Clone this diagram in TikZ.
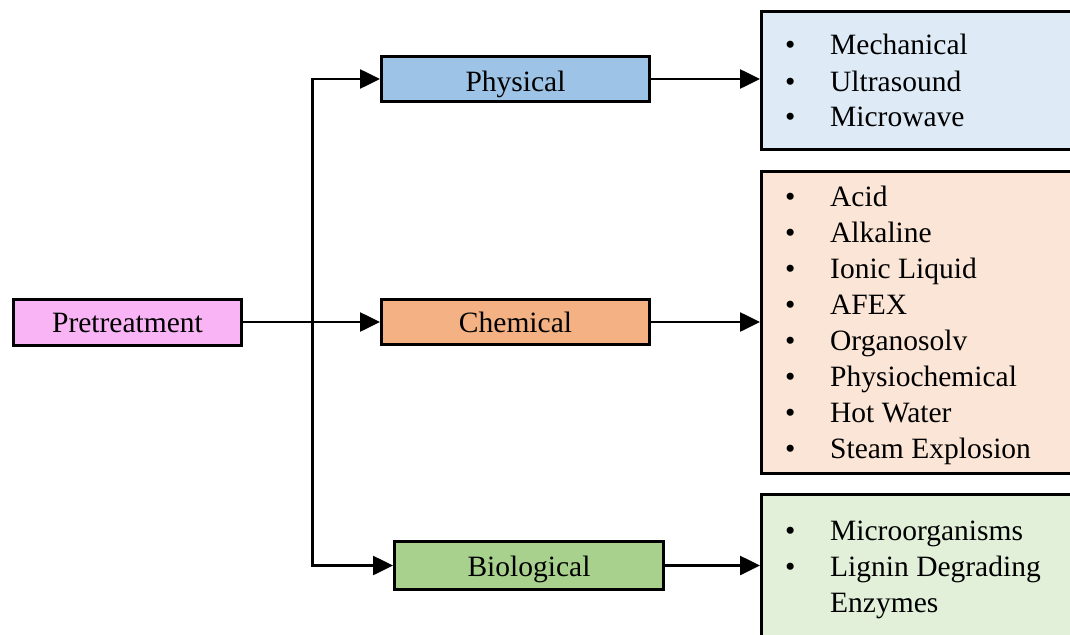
\documentclass[tikz,border=0pt]{standalone}
\usepackage{fontspec}
\setmainfont{Liberation Serif}
\usetikzlibrary{arrows.meta}

\definecolor{prefill}{HTML}{F9B4F5}
\definecolor{phyfill}{HTML}{9DC3E6}
\definecolor{chemfill}{HTML}{F4B183}
\definecolor{biofill}{HTML}{A9D18E}
\definecolor{phylight}{HTML}{DEEBF7}
\definecolor{chemlight}{HTML}{FBE5D6}
\definecolor{biolight}{HTML}{E2F0D9}

% bullet list set as a two-column table, rows 36pt apart
\newcommand{\bulletlist}[1]{%
  \setlength{\tabcolsep}{0pt}%
  \begin{tabular}[t]{@{}p{45pt}@{}l@{}}#1\end{tabular}}

\begin{document}
\begin{tikzpicture}[x=1pt,y=-1pt,
  every node/.style={font=\fontsize{29.5}{36}\selectfont},
  catbox/.style={draw=black, line width=3pt, inner sep=0pt,
    minimum height=45pt, minimum width=268pt, text height=21pt, text depth=0pt},
  listbox/.style={draw=black, line width=3pt, inner sep=0pt, minimum width=322pt},
  listtext/.style={anchor=base west, inner sep=0pt, align=left},
  conn/.style={line width=2.6pt, -{Triangle[length=20pt,width=19pt]}}
]
\useasboundingbox (0,0) rectangle (1070,634);

% category boxes
\node[catbox, fill=prefill, minimum width=228pt, minimum height=46pt] (pre) at (127.5,322) {Pretreatment};
\node[catbox, fill=phyfill, text height=25pt] (phy) at (515.5,79) {Physical};
\node[catbox, fill=chemfill] (chem) at (515.5,322) {Chemical};
\node[catbox, fill=biofill, minimum width=269pt, minimum height=48pt] (bio) at (529,565.5) {Biological};

% detail boxes on the right
\node[listbox, fill=phylight, minimum height=138pt] (phylist) at (922.5,80.5) {};
\node[listbox, fill=chemlight, minimum height=302pt] (chemlist) at (922.5,322.5) {};
\node[listbox, fill=biolight, minimum height=156pt] (biolist) at (922.5,572.5) {};

\node[listtext] (phyitems) at (785,55) {\bulletlist{•&Mechanical\\ •&Ultrasound\\ •&Microwave}};
\node[listtext] (chemitems) at (785,206) {\bulletlist{•&Acid\\ •&Alkaline\\ •&Ionic Liquid\\ •&AFEX\\ •&Organosolv\\ •&Physiochemical\\ •&Hot Water\\ •&Steam Explosion}};
\node[listtext] (bioitems) at (785,540) {\bulletlist{•&Microorganisms\\ •&Lignin Degrading\\ &Enzymes}};

% trunk and branches
\coordinate (trunk) at (312.5,322);
\draw[conn] (pre.east) -- (chem.west);
\draw[conn] (trunk) |- (phy.west);
\draw[conn] (trunk) |- (bio.west);

\draw[conn] (phy.east) -- (phy.east -| phylist.west);
\draw[conn] (chem.east) -- (chem.east -| chemlist.west);
\draw[conn] (bio.east) -- (bio.east -| biolist.west);
\end{tikzpicture}
\end{document}
